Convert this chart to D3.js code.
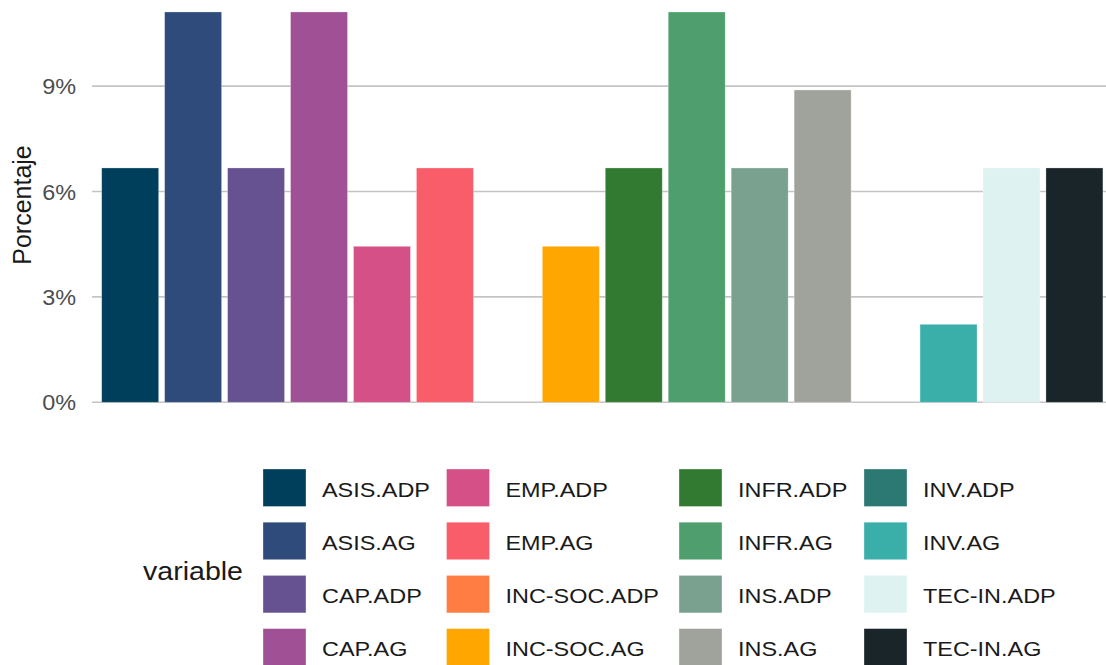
<!DOCTYPE html>
<html>
<head>
<meta charset="utf-8">
<script src="https://cdn.jsdelivr.net/npm/d3@7"></script>
<style>
  html, body { margin: 0; padding: 0; background: #fff; }
  svg { display: block; font-family: "Liberation Sans", Arial, sans-serif; }
</style>
</head>
<body>
<svg id="chart" width="1106" height="665"></svg>
<script>
// ---- data ----
const variables = ["ASIS.ADP","ASIS.AG","CAP.ADP","CAP.AG","EMP.ADP","EMP.AG",
  "INC-SOC.ADP","INC-SOC.AG","INFR.ADP","INFR.AG","INS.ADP","INS.AG",
  "INV.ADP","INV.AG","TEC-IN.ADP","TEC-IN.AG"];
// percentages (fraction of 45 items)
const values = [0.0667, 0.1111, 0.0667, 0.1111, 0.0444, 0.0667,
  null, 0.0444, 0.0667, 0.1111, 0.0667, 0.0889,
  null, 0.0222, 0.0667, 0.0667];
const colors = ["#003f5c","#2f4b7c","#665191","#a05195","#d45087","#f95d6a",
  "#ff7c43","#ffa600","#327a32","#4f9f6e","#7aa08f","#a0a39b",
  "#2c7873","#3aafa9","#def2f1","#1a252a"];
const yTicks = [0, 0.03, 0.06, 0.09];
const yTitle = "Porcentaje";
const legendTitle = "variable";

// ---- layout ----
const svg = d3.select("#chart");
const panel = { left: 92, right: 1106, top: 0, bottom: 402.3 };
const TX = 1.09; // horizontal text stretch (ticks)
const LX = 1.115; // legend labels stretch

const y = d3.scaleLinear().domain([0, 0.03]).range([402.3, 296.9]);
const x = d3.scaleBand().domain(variables)
  .range([98.7, 98.7 + 16 * 62.95]).paddingInner(0.095).paddingOuter(0.0475);
const color = d3.scaleOrdinal().domain(variables).range(colors);

// gridlines
svg.append("g").selectAll("line").data(yTicks).join("line")
  .attr("x1", panel.left).attr("x2", panel.right)
  .attr("y1", d => y(d)).attr("y2", d => y(d))
  .attr("stroke", "#c4c4c4").attr("stroke-width", 1.6);

// y tick labels
const fmt = d3.format(".0%");
svg.append("g").selectAll("text").data(yTicks).join("text")
  .attr("transform", d => `translate(76,${y(d) + 8}) scale(${TX},1)`)
  .attr("text-anchor", "end")
  .attr("font-size", 21.5).attr("fill", "#4d4d4d")
  .text(d => fmt(d));

// y title
svg.append("text")
  .attr("transform", "translate(31,205) rotate(-90)")
  .attr("text-anchor", "middle")
  .attr("font-size", 25).attr("fill", "#1a1a1a")
  .text(yTitle);

// bars
const data = variables.map((v, i) => ({ v, val: values[i] })).filter(d => d.val != null);
svg.append("g").selectAll("rect").data(data).join("rect")
  .attr("x", d => x(d.v)).attr("width", x.bandwidth())
  .attr("y", d => y(d.val)).attr("height", d => y(0) - y(d.val))
  .attr("fill", d => color(d.v))
  .attr("stroke", "#ffffff").attr("stroke-opacity", 0.35).attr("stroke-width", 0.8);

// legend
const colX = [263, 446.5, 679, 864];
const rowY = [469, 522.2, 575.4, 628.6];
const leg = svg.append("g");
const items = leg.selectAll("g").data(variables).join("g")
  .attr("transform", (d, i) => `translate(${colX[Math.floor(i / 4)]},${rowY[i % 4]})`);
items.append("rect")
  .attr("width", 43).attr("height", 37.5)
  .attr("fill", d => color(d))
  .attr("stroke", "#ffffff").attr("stroke-opacity", 0.4).attr("stroke-width", 0.8);
items.append("text")
  .attr("transform", `translate(59,27.7) scale(${LX},1)`)
  .attr("font-size", 21).attr("fill", "#1a1a1a")
  .text(d => d);

svg.append("text")
  .attr("transform", `translate(143,580) scale(1.12,1)`)
  .attr("font-size", 25.5).attr("fill", "#1a1a1a")
  .text(legendTitle);
</script>
</body>
</html>
